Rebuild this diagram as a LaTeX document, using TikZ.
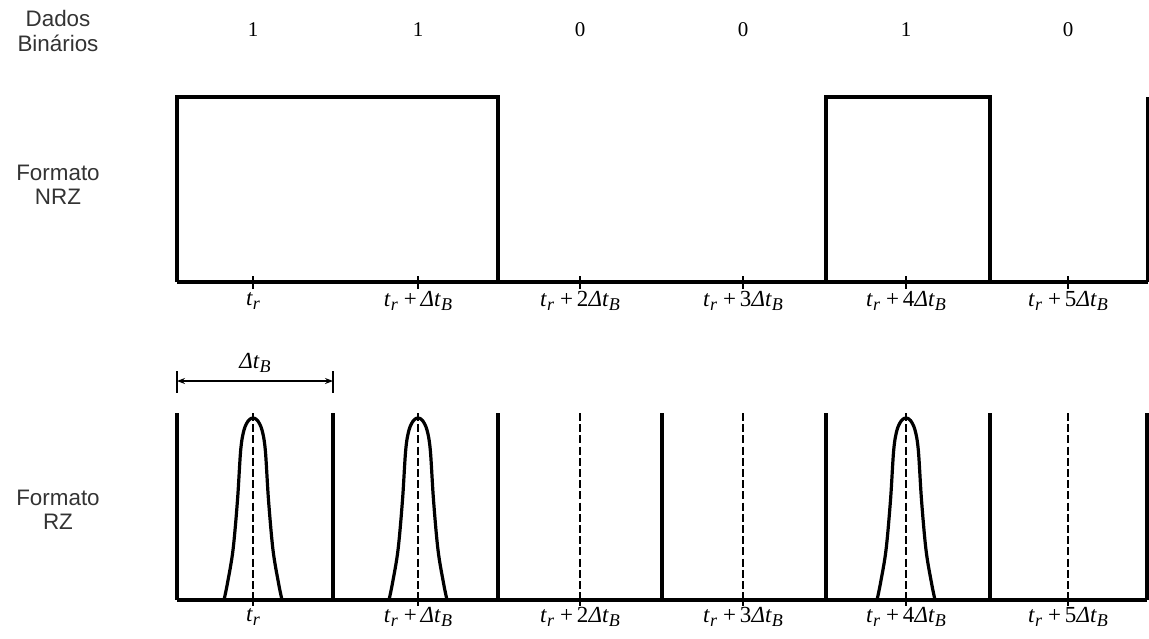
\documentclass[tikz,border=0pt]{standalone}
\usepackage{fontspec}
\setmainfont{Liberation Serif}
\setsansfont{Liberation Sans}
\usetikzlibrary{arrows.meta, positioning}
\newcommand{\lowr}[1]{\raisebox{-0.4ex}{\fontsize{9}{9}\selectfont\itshape #1}}
\newcommand{\trb}{\textit{t}\lowr{r}}
\newcommand{\dtb}{\textit{Δt}\lowr{B}}
\newcommand{\tkb}[1]{\trb\hspace{3pt}+\hspace{2pt}#1\dtb}
\tikzset{
  every picture/.style={line width=1.6pt},
  wave/.style={draw=black, line width=1.6pt, line join=miter},
  tickline/.style={draw=black, line width=0.7pt},
  guide/.style={draw=black, line width=0.7pt, dash pattern=on 4pt off 1.6pt},
  side/.style={font=\sffamily\fontsize{11.2}{12.2}\selectfont, align=center, text=black!80},
  bit/.style={font=\fontsize{10.5}{12}\selectfont},
  tlab/.style={font=\fontsize{11.5}{13}\selectfont, inner sep=1pt},
  span/.style={{Stealth[length=4pt, width=3pt]}-{Stealth[length=4pt, width=3pt]}, line width=0.6pt},
}
\begin{document}
\begin{tikzpicture}[x=0.5pt, y=-0.5pt]
  \useasboundingbox (0,0) rectangle (1149,638);
  % row titles
  \node[side] (lbin) at (58,31) {Dados\\Binários};
  \node[side] (lnrz) at (58,185) {Formato\\NRZ};
  \node[side] (lrz) at (58,510) {Formato\\RZ};
  \foreach \c/\b [count=\i] in {253/1, 418/1, 580/0, 743/0, 906/1, 1068/0}
    \node[bit] (d\i) at (\c,30) {\b};
  % NRZ
  \draw[wave] (177,282) -- (1148,282);
  \draw[wave] (177,282) -- (177,97) -- (498,97) -- (498,282);
  \draw[wave] (826,282) -- (826,97) -- (990,97) -- (990,282);
  \draw[wave] (1148,282) -- (1148,97);
  \foreach \c/\s [count=\i] in {253/\trb, 418/\tkb{}, 580/\tkb{2}, 743/\tkb{3}, 906/\tkb{4}, 1068/\tkb{5}} {
    \draw[tickline] (\c,276) -- (\c,289);
    \node[tlab] (n\i) at (\c,301) {\s};
  }
  % bit period
  \coordinate (sa) at (177,381);
  \coordinate (sb) at (333,381);
  \draw[tickline] (177,371) -- (177,393);
  \draw[tickline] (333,371) -- (333,393);
  \draw[span] (sa) -- (sb) node[tlab, midway, above=3pt] (dtb) {\dtb};
  % RZ
  \draw[wave] (177,600) -- (1147,600);
  \foreach \x in {177, 333, 498, 662, 826, 990, 1147}
    \draw[wave] (\x,413) -- (\x,600);
  \foreach \c/\s [count=\i] in {253/\trb, 418/\tkb{}, 580/\tkb{2}, 743/\tkb{3}, 906/\tkb{4}, 1068/\tkb{5}} {
    \draw[guide] (\c,413) -- (\c,600);
    \draw[tickline] (\c,600) -- (\c,606);
    \node[tlab] (r\i) at (\c,617) {\s};
  }
  \foreach \c in {253, 418, 906}
    \draw[wave] plot[smooth, tension=0.55] coordinates {({\c-29},600) ({\c-25.5},583) ({\c-20},550) ({\c-15.5},500)
      ({\c-12.3},450) ({\c-9},430) ({\c-4.5},420.5) (\c,418) ({\c+4.5},420.5) ({\c+9},430) ({\c+12.3},450)
      ({\c+15.5},500) ({\c+20},550) ({\c+25.5},583) ({\c+29},600)};
\end{tikzpicture}
\end{document}
